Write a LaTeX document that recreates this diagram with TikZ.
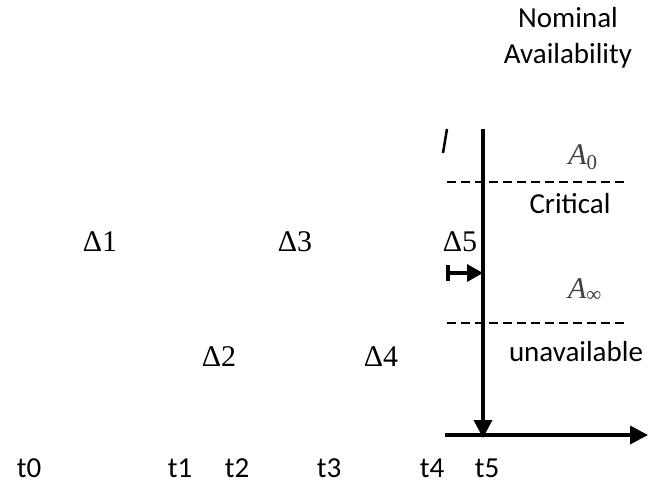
\documentclass[tikz,border=0pt]{standalone}
\usepackage{fontspec}
\setmainfont{Carlito}
\newfontfamily\timesfont{Liberation Serif}
\usepackage{tikz}
\usetikzlibrary{arrows.meta}
\usetikzlibrary{positioning}
\tikzstyle{axis} = [draw, line width=3.5pt, -{Triangle[length=18pt,width=18pt]}]
\tikzstyle{level} = [draw, line width=2.5pt, dash pattern=on 9pt off 5pt]
\tikzstyle{tlabel} = [font=\fontsize{29}{36}\selectfont, inner sep=0pt]
\tikzstyle{delta} = [font=\timesfont\fontsize{30}{34}\selectfont, inner sep=0pt]
\tikzstyle{avail} = [font=\timesfont\itshape\fontsize{30}{34}\selectfont, text=black!75, inner sep=0pt]

\begin{document}
\begin{tikzpicture}[x=1pt, y=-1pt]
  \useasboundingbox (0,0) rectangle (648,501);
  % axes
  \coordinate (vtop) at (483,129);
  \coordinate (origin) at (483,438);
  \coordinate (hleft) at (445,435);
  \coordinate (hright) at (648,435);
  \path [axis] (vtop) -- (origin);
  \path [axis] (hleft) -- (hright);

  % levels
  \coordinate (c0) at (447,182);
  \coordinate (c1) at (625,182);
  \coordinate (u0) at (447,323);
  \coordinate (u1) at (625,323);
  \path [level] (c0) -- (c1);
  \path [level] (u0) -- (u1);

  % small arrow and stray stroke
  \coordinate (s0) at (446,273);
  \coordinate (s1) at (483,273);
  \path [draw, line width=3.5pt, {Bar[width=16pt]}-{Triangle[length=16pt,width=17pt]}] (s0) -- (s1);
  \coordinate (k0) at (443,153);
  \coordinate (k1) at (447,129);
  \path [draw, line width=2.5pt] (k0) -- (k1);

  % texts
  \node [tlabel, align=center] (nominal) at (568,38) {Nominal\\Availability};
  \node [avail] (a0) at (583,157) {A\textsubscript{\upshape 0}};
  \node [tlabel] (critical) at (570,204) {Critical};
  \node [avail] (ainf) at (585,290) {A\textsubscript{\upshape ∞}};
  \node [tlabel] (unavail) at (576,352) {unavailable};

  \node [delta] (d1) at (100,242) {Δ1};
  \node [delta] (d3) at (295,242) {Δ3};
  \node [delta] (d5) at (460,242) {Δ5};
  \node [delta] (d2) at (219,357) {Δ2};
  \node [delta] (d4) at (381,357) {Δ4};

  \node [tlabel] (t0) at (29,468) {t0};
  \node [tlabel] (t1) at (180,468) {t1};
  \node [tlabel] (t2) at (237,468) {t2};
  \node [tlabel] (t3) at (329,468) {t3};
  \node [tlabel] (t4) at (432,468) {t4};
  \node [tlabel] (t5) at (487,468) {t5};

\end{tikzpicture}
\end{document}
